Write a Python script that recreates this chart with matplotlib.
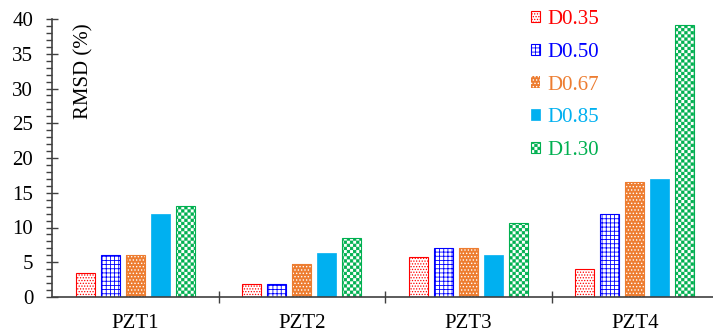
import warnings
import numpy as np
import matplotlib
matplotlib.use('Agg')
import matplotlib.pyplot as plt
import matplotlib.hatch as mhatch
from matplotlib.path import Path
from matplotlib.ticker import MultipleLocator

warnings.filterwarnings('ignore')

# datos
sensores = ['PZT1', 'PZT2', 'PZT3', 'PZT4']
d035 = [3.5, 1.8, 5.7, 4.0]
d050 = [6.0, 1.9, 7.0, 12.0]
d067 = [6.0, 4.8, 7.1, 16.5]
d085 = [12.0, 6.4, 6.0, 17.0]
d130 = [13.1, 8.5, 10.6, 39.2]
etiquetas = ['D0.35', 'D0.50', 'D0.67', 'D0.85', 'D1.30']


# trama de tablero de ajedrez (no existe en matplotlib)
class CheckerHatch(mhatch.HatchPatternBase):
    def __init__(self, hatch, density):
        self.n = hatch.count('c') * 16
        self.num_vertices = (self.n * self.n // 2) * 5

    def set_vertices_and_codes(self, vertices, codes):
        n = self.n
        paso = 1.0 / n
        m = 0.12 * paso
        cuadro = np.array([[m, m], [paso - m, m], [paso - m, paso - m], [m, paso - m], [m, m]])
        partes = [cuadro + [i * paso, j * paso]
                  for i in range(n) for j in range(n) if (i + j) % 2 == 0]
        vertices[:] = np.concatenate(partes)
        codes[:] = np.tile([Path.MOVETO, Path.LINETO, Path.LINETO, Path.LINETO, Path.CLOSEPOLY], len(partes))


mhatch._hatch_types.append(CheckerHatch)

plt.rcParams['font.family'] = 'Liberation Serif'
plt.rcParams['hatch.linewidth'] = 0.6

rojo = '#FF0000'
azul = '#0000FF'
naranja = '#ED7D31'
cian = '#00B0F0'
verde = '#00B050'
gris = '#404040'

fig = plt.figure(figsize=(7.13, 3.33), dpi=100)
ax = fig.add_axes([52 / 713, 1 - 297 / 333, 666 / 713, 278 / 333])

x = np.arange(len(sensores))
w = 0.114
sep = 0.15

ax.bar(x - 2 * sep, d035, w, facecolor='white', edgecolor=rojo, hatch='......', linewidth=0.8, label=etiquetas[0])
ax.bar(x - sep, d050, w, facecolor='white', edgecolor=azul, hatch='++++', linewidth=0.8, label=etiquetas[1])
ax.bar(x, d067, w, facecolor=naranja, edgecolor='white', hatch='.....', linewidth=0, label=etiquetas[2])
ax.bar(x, d067, w, facecolor='none', edgecolor=naranja, linewidth=0.8)
ax.bar(x + sep, d085, w, facecolor=cian, edgecolor=cian, linewidth=0.5, label=etiquetas[3])
ax.bar(x + 2 * sep, d130, w, facecolor='white', edgecolor=verde, hatch='cc', linewidth=0.8, label=etiquetas[4])

ax.set_xlim(-0.5, 3.5)
ax.set_ylim(0, 40)

for s in ['top', 'right']:
    ax.spines[s].set_visible(False)
for s in ['left', 'bottom']:
    ax.spines[s].set_color(gris)
    ax.spines[s].set_linewidth(1.2)

ax.yaxis.set_major_locator(MultipleLocator(5))
ax.yaxis.set_minor_locator(MultipleLocator(1))
ax.tick_params(axis='y', which='major', direction='inout', length=9, width=1, color=gris,
               labelsize=15, pad=9)
ax.tick_params(axis='y', which='minor', direction='out', length=4, width=1, color=gris)

ax.set_xticks([0.5, 1.5, 2.5])
ax.set_xticklabels([])
ax.set_xticks(x, minor=True)
ax.set_xticklabels(sensores, minor=True)
ax.tick_params(axis='x', which='major', direction='inout', length=9, width=1, color=gris)
ax.tick_params(axis='x', which='minor', length=0, labelsize=15, pad=12)

ax.text(0.048, 0.813, 'RMSD (%)', transform=ax.transAxes, rotation=90,
        ha='center', va='center', fontsize=15)

leg = ax.legend(loc='upper left', bbox_to_anchor=(531 / 713, 1 - 10 / 333),
                bbox_transform=fig.transFigure, frameon=False, fontsize=15,
                handlelength=0.45, handleheight=0.45, handletextpad=0.35,
                labelspacing=0.66, borderpad=0, borderaxespad=0)
for t, c in zip(leg.get_texts(), [rojo, azul, naranja, cian, verde]):
    t.set_color(c)

fig.savefig('out.png', dpi=100)
